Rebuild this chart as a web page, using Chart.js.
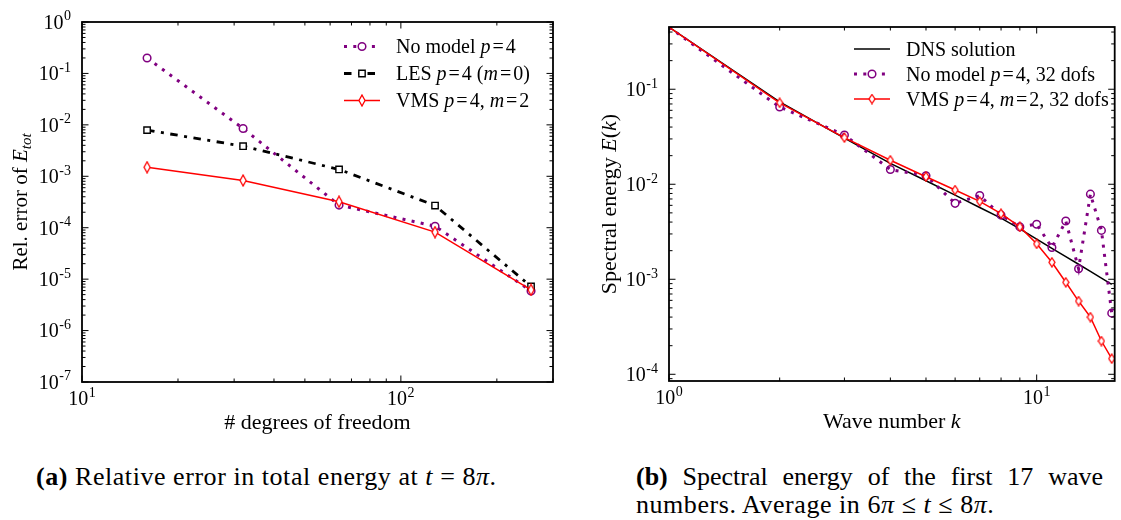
<!DOCTYPE html>
<html>
<head>
<meta charset="utf-8">
<title>Energy error and spectra</title>
<script src="https://cdn.jsdelivr.net/npm/chart.js"></script>
<style>
  body { margin: 0; background: #fff; width: 1121px; height: 520px; position: relative; overflow: hidden; }
  canvas { position: absolute; top: 0; }
  #errorChart { left: 0; }
  #spectrumChart { left: 560px; }
  .cap { position: absolute; font-family: "Liberation Serif", serif; font-size: 26px; line-height: 26px; letter-spacing: 0.55px; color: #000; white-space: nowrap; }
  .cap b { font-weight: bold; }
  .just { text-align: justify; text-align-last: justify; white-space: normal; letter-spacing: 0; }
</style>
</head>
<body>
<canvas id="errorChart" width="560" height="440"></canvas>
<canvas id="spectrumChart" width="561" height="440"></canvas>

<div class="cap" style="left:36px; top:464px;"><b>(a)</b> Relative error in total energy at <i>t</i> = 8<i>π</i>.</div>
<div class="cap just" style="left:636px; top:464px; width:467px;"><b>(b)</b> Spectral energy of the first 17 wave</div>
<div class="cap" style="left:636px; top:492px;">numbers. Average in 6<i>π</i> ≤ <i>t</i> ≤ 8<i>π</i>.</div>

<script>
  // (a) relative error of total energy vs degrees of freedom
  const dofs = [16, 32, 64, 128, 256];
  const errNoModel = [2.0e-1, 8.5e-3, 2.75e-4, 1.07e-4, 5.9e-6];
  const errLES = [7.9e-3, 3.85e-3, 1.36e-3, 2.7e-4, 7.2e-6];
  const errVMS = [1.5e-3, 8.3e-4, 3.2e-4, 8.2e-5, 6.2e-6];

  // (b) time averaged spectral energy per wave number
  const waveNumbers = [1, 2, 3, 4, 5, 6, 7, 8, 9, 10, 11, 12, 13, 14, 15, 16];
  const specDNS = [0.45, 0.0736, 0.0306, 0.0166, 0.0109, 0.0077, 0.0057, 0.0044, 0.0034, 0.00265,
                   0.00212, 0.00173, 0.00144, 0.00121, 0.00103, 0.000886];
  const specNoModel = [0.45, 0.065, 0.033, 0.0143, 0.0123, 0.0063, 0.0076, 0.00473, 0.00356, 0.0038,
                       0.00216, 0.0041, 0.00129, 0.00787, 0.00327, 0.00044];
  const specVMS = [0.45, 0.072, 0.031, 0.0179, 0.012, 0.0087, 0.0066, 0.0049, 0.00356, 0.00236,
                   0.00151, 0.00093, 0.00059, 0.0004, 0.000224, 0.000146];

  const PURPLE = '#800080';
  const RED = '#ff0000';
  const SERIF = '"Liberation Serif", serif';
  const LEGEND_SIZE = 20;
  const TITLE_SIZE = 22;

  function font(size, italic) {
    return (italic ? 'italic ' : '') + size + 'px ' + SERIF;
  }

  // text pieces: regular, italic, "=" with math spacing
  const R = t => ({ t });
  const I = t => ({ t, i: true });
  const EQ = () => ({ t: '=', pl: 2, pr: 2 });

  function richWidth(ctx, parts, size) {
    let w = 0;
    for (const p of parts) {
      ctx.font = font(p.s || size, p.i);
      w += (p.pl || 0) + ctx.measureText(p.t).width + (p.pr || 0);
    }
    return w;
  }

  function drawRich(ctx, parts, x, y, align, size) {
    const w = richWidth(ctx, parts, size);
    let cx = align === 'center' ? x - w / 2 : align === 'right' ? x - w : x;
    ctx.textAlign = 'left';
    ctx.textBaseline = 'alphabetic';
    ctx.fillStyle = '#000';
    for (const p of parts) {
      ctx.font = font(p.s || size, p.i);
      cx += p.pl || 0;
      ctx.fillText(p.t, cx, y + (p.dy || 0));
      cx += ctx.measureText(p.t).width + (p.pr || 0);
    }
  }

  // "10" with a raised exponent; y is the centre line of the digits
  function drawPow(ctx, exp, x, y, align) {
    const base = '10';
    const sup = exp < 0 ? '-' + (-exp) : String(exp);
    ctx.font = font(20);
    const wb = ctx.measureText(base).width;
    ctx.font = font(14);
    const ws = ctx.measureText(sup).width;
    const w = wb + ws + 0.5;
    const x0 = align === 'right' ? x - w : x - w / 2;
    ctx.textAlign = 'left';
    ctx.textBaseline = 'alphabetic';
    ctx.fillStyle = '#000';
    ctx.font = font(20);
    ctx.fillText(base, x0, y + 6.8);
    ctx.font = font(14);
    ctx.fillText(sup, x0 + wb + 0.5, y - 1.6);
  }

  function logTicks(lo, hi) {
    const out = [];
    for (let e = Math.floor(Math.log10(lo)); e <= Math.ceil(Math.log10(hi)); e++) {
      for (let m = 1; m <= 9; m++) {
        const v = m * Math.pow(10, e);
        if (v >= lo * 0.9999 && v <= hi * 1.0001) out.push({ v, major: m === 1, exp: e });
      }
    }
    return out;
  }

  function makeDiamond(w, h, color) {
    const c = document.createElement('canvas');
    c.width = w + 2;
    c.height = h + 2;
    const g = c.getContext('2d');
    g.beginPath();
    g.moveTo(c.width / 2, 1);
    g.lineTo(c.width - 1, c.height / 2);
    g.lineTo(c.width / 2, c.height - 1);
    g.lineTo(1, c.height / 2);
    g.closePath();
    g.fillStyle = '#fff';
    g.fill();
    g.strokeStyle = color;
    g.lineWidth = 1.3;
    g.stroke();
    return c;
  }

  // frame, inward ticks, tick labels, axis titles and legend
  const framePlugin = {
    id: 'frame',
    afterDatasetsDraw(chart, args, opts) {
      const { ctx, chartArea: a, scales: { x, y } } = chart;
      ctx.save();
      ctx.strokeStyle = '#000';
      ctx.lineWidth = 1;
      const seg = (x1, y1, x2, y2) => { ctx.beginPath(); ctx.moveTo(x1, y1); ctx.lineTo(x2, y2); ctx.stroke(); };

      for (const t of logTicks(x.min, x.max)) {
        const px = x.getPixelForValue(t.v);
        const len = t.major ? 6.5 : 3.5;
        seg(px, a.bottom, px, a.bottom - len);
        seg(px, a.top, px, a.top + len);
        if (t.major) drawPow(ctx, t.exp, px, a.bottom + 16.5, 'center');
      }
      for (const t of logTicks(y.min, y.max)) {
        const py = y.getPixelForValue(t.v);
        const len = t.major ? 6.5 : 3.5;
        seg(a.left, py, a.left + len, py);
        seg(a.right, py, a.right - len, py);
        if (t.major) drawPow(ctx, t.exp, a.left - 11, py, 'right');
      }

      ctx.lineWidth = 1.8;
      ctx.strokeRect(a.left, a.top, a.right - a.left, a.bottom - a.top);

      drawRich(ctx, opts.xTitle, (a.left + a.right) / 2, opts.xTitleY, 'center', TITLE_SIZE);
      ctx.save();
      ctx.translate(opts.yTitleX, (a.top + a.bottom) / 2);
      ctx.rotate(-Math.PI / 2);
      drawRich(ctx, opts.yTitle, 0, 0, 'center', opts.yTitleSize);
      ctx.restore();

      // legend rows: sample line with marker, then label
      opts.legend.forEach((row, i) => {
        const ds = chart.data.datasets[row.ds];
        const cy = opts.legendY[i];
        const x1 = opts.legendX, x2 = opts.legendX + 36;
        ctx.save();
        ctx.strokeStyle = ds.borderColor;
        ctx.lineWidth = ds.borderWidth;
        ctx.setLineDash(ds.borderDash || []);
        seg(x1, cy, x2, cy);
        ctx.restore();
        if (ds.pointStyle) {
          ctx.save();
          ctx.fillStyle = '#fff';
          ctx.strokeStyle = ds.borderColor;
          ctx.lineWidth = ds.pointBorderWidth;
          Chart.helpers.drawPoint(ctx, { pointStyle: ds.pointStyle, radius: ds.legendRadius, rotation: 0, borderWidth: ds.pointBorderWidth }, (x1 + x2) / 2, cy);
          ctx.restore();
        }
        drawRich(ctx, row.parts, opts.legendX + 52, cy + 6.5, 'left', LEGEND_SIZE);
      });
      ctx.restore();
    }
  };

  const hiddenAxis = (type, min, max, fit) => ({
    type, min, max,
    ticks: { display: false },
    grid: { display: false },
    border: { display: false },
    afterFit: fit
  });

  const pts = (xs, ys) => xs.map((v, i) => ({ x: v, y: ys[i] }));

  new Chart(document.getElementById('errorChart'), {
    type: 'line',
    data: {
      datasets: [
        {
          label: 'No model', data: pts(dofs, errNoModel), order: 3,
          borderColor: PURPLE, borderWidth: 3, borderDash: [3, 6.3], borderCapStyle: 'butt',
          pointStyle: 'circle', pointRadius: 3.8, legendRadius: 3.8, pointBorderWidth: 1.5,
          pointBackgroundColor: '#fff', pointBorderColor: PURPLE
        },
        {
          label: 'LES', data: pts(dofs, errLES), order: 2,
          borderColor: '#000', borderWidth: 2.8, borderDash: [7.5, 6.5, 3, 6.5], borderCapStyle: 'butt',
          pointStyle: 'rect', pointRadius: 4.5, legendRadius: 4.5, pointBorderWidth: 1.4,
          pointBackgroundColor: '#fff', pointBorderColor: '#000'
        },
        {
          label: 'VMS', data: pts(dofs, errVMS), order: 1,
          borderColor: RED, borderWidth: 1.5,
          pointStyle: makeDiamond(6, 11, RED), pointRadius: 5, legendRadius: 5, pointBorderWidth: 1.3,
          pointBackgroundColor: '#fff', pointBorderColor: RED
        }
      ]
    },
    options: {
      responsive: false,
      animation: false,
      layout: { padding: { left: 0, top: 22, right: 7, bottom: 0 } },
      elements: { line: { tension: 0 } },
      plugins: {
        legend: { display: false },
        tooltip: { enabled: false },
        frame: {
          xTitle: [R('# degrees of freedom')],
          xTitleY: 429,
          yTitle: [R('Rel. error of '), I('E'), { t: 'tot', i: true, s: 15, dy: 4 }],
          yTitleX: 27,
          yTitleSize: 21,
          legendX: 344,
          legendY: [46.5, 73.5, 100.5],
          legend: [
            { ds: 0, parts: [R('No model '), I('p'), EQ(), R('4')] },
            { ds: 1, parts: [R('LES '), I('p'), EQ(), R('4 ('), I('m'), EQ(), R('0)')] },
            { ds: 2, parts: [R('VMS '), I('p'), EQ(), R('4, '), I('m'), EQ(), R('2')] }
          ]
        }
      },
      scales: {
        x: hiddenAxis('logarithmic', 10, 300, s => { s.height = 58; }),
        y: hiddenAxis('logarithmic', 1e-7, 1, s => { s.width = 82; })
      }
    },
    plugins: [framePlugin]
  });

  new Chart(document.getElementById('spectrumChart'), {
    type: 'line',
    data: {
      datasets: [
        {
          label: 'DNS solution', data: pts(waveNumbers, specDNS), order: 3,
          borderColor: '#000', borderWidth: 1.5, pointRadius: 0
        },
        {
          label: 'No model', data: pts(waveNumbers, specNoModel), order: 2,
          borderColor: PURPLE, borderWidth: 3, borderDash: [3, 6.3], borderCapStyle: 'butt',
          pointStyle: 'circle', pointRadius: waveNumbers.map(k => k === 1 ? 0 : 3.8), legendRadius: 3.8,
          pointBorderWidth: 1.5, pointBackgroundColor: 'rgba(255,255,255,0)', pointBorderColor: PURPLE
        },
        {
          label: 'VMS', data: pts(waveNumbers, specVMS), order: 1,
          borderColor: RED, borderWidth: 1.5,
          pointStyle: makeDiamond(6, 9, RED), pointRadius: waveNumbers.map(k => k === 1 ? 0 : 5), legendRadius: 5,
          pointBorderWidth: 1.3, pointBackgroundColor: '#fff', pointBorderColor: RED
        }
      ]
    },
    options: {
      responsive: false,
      animation: false,
      layout: { padding: { left: 0, top: 27, right: 2, bottom: 0 } },
      elements: { line: { tension: 0 } },
      plugins: {
        legend: { display: false },
        tooltip: { enabled: false },
        frame: {
          xTitle: [R('Wave number '), I('k')],
          xTitleY: 428,
          yTitle: [R('Spectral energy '), I('E'), R('('), I('k'), R(')')],
          yTitleX: 56,
          yTitleSize: 22,
          legendX: 294,
          legendY: [49, 74, 99],
          legend: [
            { ds: 0, parts: [R('DNS solution')] },
            { ds: 1, parts: [R('No model '), I('p'), EQ(), R('4, 32 dofs')] },
            { ds: 2, parts: [R('VMS '), I('p'), EQ(), R('4, '), I('m'), EQ(), R('2, 32 dofs')] }
          ]
        }
      },
      scales: {
        x: hiddenAxis('logarithmic', 1, 16.3, s => { s.height = 59; }),
        y: hiddenAxis('logarithmic', 8.5e-5, 0.452, s => { s.width = 109; })
      }
    },
    plugins: [framePlugin]
  });
</script>
</body>
</html>
